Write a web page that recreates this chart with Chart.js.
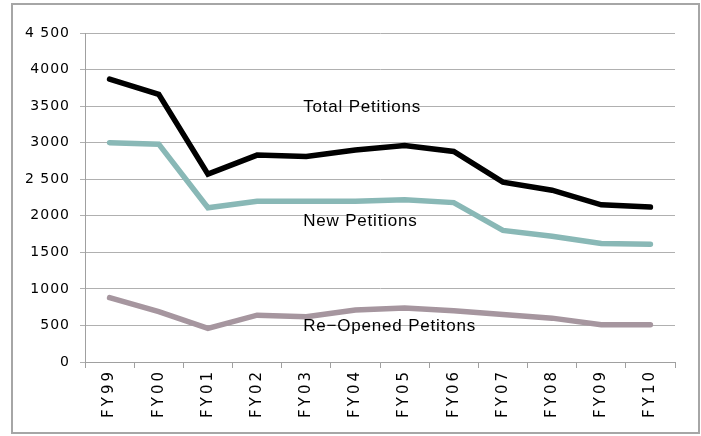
<!DOCTYPE html>
<html>
<head>
<meta charset="utf-8">
<script src="https://cdn.jsdelivr.net/npm/chart.js@4/dist/chart.umd.min.js"></script>
<style>
    body { margin: 0; background: #fff; }
    #wrap { position: relative; width: 701px; height: 436px; }
</style>
</head>
<body>
<div id="wrap"><canvas id="myChart"></canvas></div>
<script>
let years = ['FY99', 'FY00', 'FY01', 'FY02', 'FY03', 'FY04', 'FY05', 'FY06', 'FY07', 'FY08', 'FY09', 'FY10'];
let totalPetitions = [3870, 3660, 2570, 2830, 2810, 2900, 2960, 2880, 2460, 2350, 2150, 2120];
let newPetitions = [3000, 2980, 2110, 2200, 2200, 2200, 2220, 2180, 1800, 1720, 1620, 1610];
let reopenedPetitions = [880, 690, 460, 640, 620, 710, 740, 700, 650, 600, 510, 510];
let yTickLabels = ['0', '500', '1000', '1500', '2000', '2 500', '3000', '3500', '4000', '4 500'];

// text labels that sit inside the plot, anchored on a category and a value
let seriesLabels = ['Total Petitions', 'New Petitions', 'Re\u2212Opened Petitons'];
let seriesLabelYear = ['FY03', 'FY03', 'FY03'];
let seriesLabelValue = [3480, 1930, 490];

// letter spacing per axis, canvas has no option for it in Chart.js
function spaceLabels(scale, spacing) {
    if (scale._spaced) return;
    let orig = scale.drawLabels;
    scale.drawLabels = function (area) {
        let c = this.ctx;
        c.save();
        c.letterSpacing = spacing;
        orig.call(this, area);
        c.restore();
    };
    scale._spaced = true;
}

let frameAndLabels = {
    id: 'frameAndLabels',
    beforeDraw(chart) {
        let ctx = chart.ctx;
        ctx.save();
        ctx.strokeStyle = '#a6a6a6';
        ctx.lineWidth = 2;
        ctx.strokeRect(12, 4, 687, 429);
        ctx.restore();
        spaceLabels(chart.scales.x, '3px');
        spaceLabels(chart.scales.y, '1px');
    },
    afterDatasetsDraw(chart) {
        let ctx = chart.ctx;
        let x = chart.scales.x;
        let y = chart.scales.y;
        ctx.save();
        ctx.letterSpacing = '0.8px';
        ctx.font = '17px "Liberation Sans", Arial, sans-serif';
        ctx.fillStyle = '#000';
        ctx.textAlign = 'left';
        ctx.textBaseline = 'middle';
        for (let i = 0; i < seriesLabels.length; i++) {
            let px = x.getPixelForValue(years.indexOf(seriesLabelYear[i]));
            let py = y.getPixelForValue(seriesLabelValue[i]);
            ctx.fillText(seriesLabels[i], px - 3, py);
        }
        ctx.restore();
    }
};

function makeLine(label, data, color) {
    return {
        label: label,
        data: data,
        borderColor: color,
        backgroundColor: color,
        borderWidth: 5.5,
        pointRadius: 0,
        tension: 0,
        borderCapStyle: 'round',
        borderJoinStyle: 'miter'
    };
}

const ctx = document.getElementById('myChart');

new Chart(ctx, {
    type: 'line',
    data: {
        labels: years,
        datasets: [
            makeLine('Total Petitions', totalPetitions, '#000000'),
            makeLine('New Petitions', newPetitions, '#89b8b6'),
            makeLine('Re-Opened Petitons', reopenedPetitions, '#a6969f')
        ]
    },
    plugins: [frameAndLabels],
    options: {
        responsive: true,
        maintainAspectRatio: false,
        animation: false,
        layout: {
            padding: { left: 0, right: 26, top: 33, bottom: 0 }
        },
        plugins: {
            legend: { display: false },
            tooltip: { enabled: false }
        },
        scales: {
            x: {
                offset: true,
                grid: {
                    offset: true,
                    drawOnChartArea: false,
                    drawTicks: true,
                    tickLength: 6,
                    color: '#a0a0a0'
                },
                border: { color: '#a0a0a0', width: 1 },
                ticks: {
                    minRotation: 90,
                    maxRotation: 90,
                    color: '#000',
                    padding: 1,
                    font: { family: 'DejaVu Sans', size: 15 }
                },
                afterFit(scale) {
                    scale.height = 74;
                }
            },
            y: {
                min: 0,
                max: 4500,
                ticks: {
                    stepSize: 500,
                    color: '#000',
                    padding: 10,
                    font: { family: 'DejaVu Sans', size: 14 },
                    callback: function (value) {
                        return yTickLabels[value / 500];
                    }
                },
                grid: {
                    color: '#b0b0b0',
                    lineWidth: 1,
                    tickLength: 5
                },
                border: { color: '#a0a0a0', width: 1 },
                afterFit(scale) {
                    scale.width = 85;
                }
            }
        }
    }
});
</script>
</body>
</html>
